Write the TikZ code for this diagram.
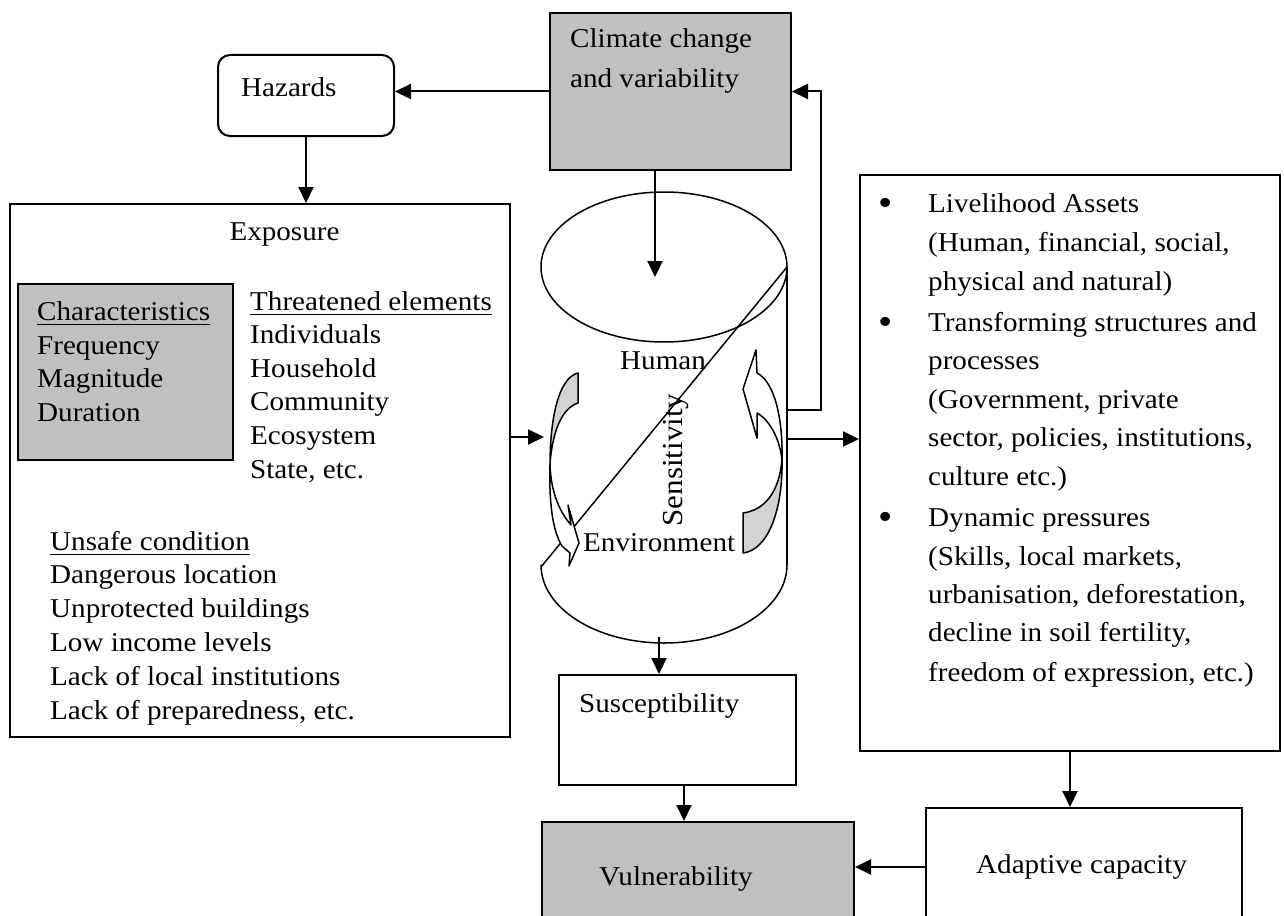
\documentclass[tikz,border=0pt]{standalone}
\usepackage{fontspec}
\setmainfont{Liberation Serif}[FakeStretch=1.07]
\usetikzlibrary{arrows.meta,calc,shapes.geometric}
\definecolor{climgray}{RGB}{192,192,192}
\definecolor{arrgray}{RGB}{210,210,210}
\newcommand\fs{\fontsize{27.2}{30}\selectfont}
\newsavebox\ulbox
\newcommand\myul[1]{\sbox\ulbox{#1}\rlap{\raisebox{-5.2pt}{\rule{\wd\ulbox}{1.7pt}}}\usebox\ulbox}
\newcommand\bul{\raisebox{-3pt}{\fontsize{38}{38}\selectfont •}}
\begin{document}
\begin{tikzpicture}[x=1pt,y=-1pt,
  box/.style={draw, line width=2pt, inner sep=0pt, anchor=north west},
  arr/.style={line width=2pt, -{Triangle[length=16pt,width=15pt]}},
  txt/.style={anchor=base west, inner sep=0pt, font=\fs},
  shp/.style={line width=1.5pt, line join=round}]
\useasboundingbox (0,0) rectangle (1284,915);
\clip (0,0) rectangle (1284,915);

% boxes
\node[box, fill=climgray, minimum width=241pt, minimum height=157pt] (clim) at (549,12) {};
\node[box, rounded corners=12pt, minimum width=176pt, minimum height=81pt] (hz) at (217,54) {};
\node[box, minimum width=500pt, minimum height=533pt] (expo) at (9,203) {};
\node[box, line width=1.5pt, fill=climgray, minimum width=215pt, minimum height=176pt] (chr) at (17,283) {};
\node[box, minimum width=420pt, minimum height=576pt] (rb) at (859,174) {};
\node[box, minimum width=237pt, minimum height=110pt] (sus) at (558,674) {};
\node[box, fill=climgray, minimum width=312pt, minimum height=130pt] (vu) at (541,821) {};
\node[box, minimum width=316pt, minimum height=140pt] (ad) at (925,807) {};

% texts
\node[txt] (ct1) at (570,48) {Climate change};
\node[txt] (ct2) at (570,88) {and variability};
\node[txt] (hzt) at (241,97) {Hazards};
\node[anchor=base, inner sep=0pt, font=\fs] (ext) at (284.5,240) {Exposure};

\node[txt] (c1) at (37,320) {\myul{Characteristics}};
\node[txt] (c2) at (37,354) {Frequency};
\node[txt] (c3) at (37,387.5) {Magnitude};
\node[txt] (c4) at (37,421.5) {Duration};

\node[txt] (e1) at (250,310) {\myul{Threatened elements}};
\node[txt] (e2) at (250,343.5) {Individuals};
\node[txt] (e3) at (250,377) {Household};
\node[txt] (e4) at (250,410.5) {Community};
\node[txt] (e5) at (250,444.5) {Ecosystem};
\node[txt] (e6) at (250,478) {State, etc.};

\node[txt] (u1) at (50,550) {\myul{Unsafe condition}};
\node[txt] (u2) at (50,583.5) {Dangerous location};
\node[txt] (u3) at (50,617.5) {Unprotected buildings};
\node[txt] (u4) at (50,651.5) {Low income levels};
\node[txt] (u5) at (50,685) {Lack of local institutions};
\node[txt] (u6) at (50,719) {Lack of preparedness, etc.};

\node[txt] (b1) at (878,212.7) {\bul};
\node[txt] (b2) at (878,331.7) {\bul};
\node[txt] (b3) at (878,526) {\bul};
\node[txt] (r1) at (928,212.7) {Livelihood Assets};
\node[txt] (r2) at (928,251.7) {(Human, financial, social,};
\node[txt] (r3) at (928,290) {physical and natural)};
\node[txt] (r4) at (928,331.7) {Transforming structures and};
\node[txt] (r5) at (928,369.3) {processes};
\node[txt] (r6) at (928,408.3) {(Government, private};
\node[txt] (r7) at (928,446.7) {sector, policies, institutions,};
\node[txt] (r8) at (928,485) {culture etc.)};
\node[txt] (r9) at (928,526) {Dynamic pressures};
\node[txt] (r10) at (928,565) {(Skills, local markets,};
\node[txt] (r11) at (928,603.3) {urbanisation, deforestation,};
\node[txt] (r12) at (928,641.7) {decline in soil fertility,};
\node[txt] (r13) at (928,681.7) {freedom of expression, etc.)};

\node[txt] (sust) at (579,712) {Susceptibility};
\node[txt] (vut) at (599,885) {Vulnerability};
\node[txt] (adt) at (976,873) {Adaptive capacity};

% cylinder
\node[draw, shp, ellipse, inner sep=0pt, minimum width=246pt, minimum height=150pt] (top) at (664,267) {};
\node[inner sep=0pt, minimum width=246pt, minimum height=376pt] (cyl) at (664,455) {};
\draw[shp] (787,267) -- (787,565);
\draw[shp] (787,267) -- (541,567) -- (541,565) .. controls (541,608) and (596,643) .. (664,643) .. controls (732,643) and (787,608) .. (787,565);

% left curved arrow
\draw[shp, fill=arrgray] (578,373) -- (578,403) .. controls (562,408) and (552,432) .. (550,465) .. controls (550,420) and (558,378) .. (578,373) -- cycle;
\draw[shp, fill=white] (550,465) .. controls (551,490) and (558,510) .. (571,525) -- (568,505) -- (579,543) -- (569,566) -- (570,553) -- (562,546) .. controls (552,530) and (549,500) .. (550,465) -- cycle;
% right curved arrow
\draw[shp, fill=arrgray] (743,513) -- (743,553) .. controls (768,550) and (783,510) .. (782,460) .. controls (779,492) and (765,510) .. (743,513) -- cycle;
\draw[shp, fill=white] (782,460) .. controls (783,420) and (775,382) .. (757,373) -- (756,350) -- (743,389) -- (757,438) -- (757,413) .. controls (770,420) and (780,440) .. (782,460) -- cycle;

\node[txt] (hum) at (620,369) {Human};
\node[txt] (env) at (583,551) {Environment};
\node[rotate=90, anchor=base, inner sep=0pt, font=\fontsize{29}{30}\selectfont] (sens) at (682,460) {Sensitivity};

% connectors
\coordinate (ctop) at (655,277);
\coordinate (cw) at (544,437);
\coordinate (fb) at (787,410);
\coordinate (ce) at (787,439);
\coordinate (cb) at (659,637);
\coordinate (sv) at (684,784);
\coordinate (av) at (925,867);
\draw[arr] (clim.west) -- (clim.west -| hz.east);
\draw[arr] (hz.south) -- (hz.south |- expo.north);
\draw[arr] (ctop |- clim.south) -- (ctop);
\draw[arr] (cw -| expo.east) -- (cw);
\draw[arr] (fb) -| ($(clim.east)+(29,0)$) -- (clim.east);
\draw[arr] (ce) -- (ce -| rb.west);
\draw[arr] (cb) -- (cb |- sus.north);
\draw[arr] (sv) -- (sv |- vu.north);
\draw[arr] (rb.south) -- (rb.south |- ad.north);
\draw[arr] (av) -- (av -| vu.east);
\end{tikzpicture}
\end{document}
